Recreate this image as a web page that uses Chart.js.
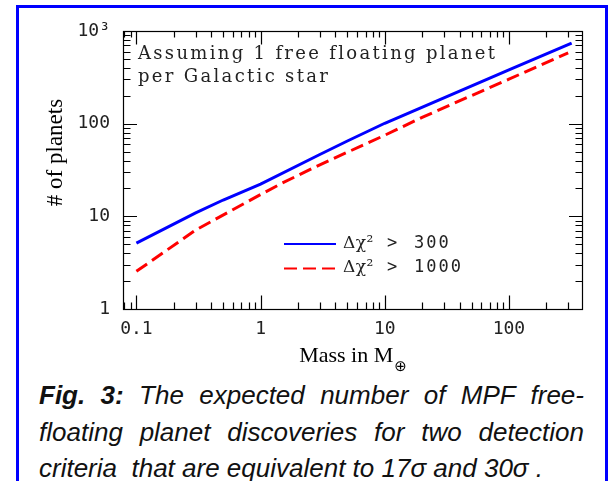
<!DOCTYPE html>
<html><head><meta charset="utf-8">
<script src="https://cdn.jsdelivr.net/npm/chart.js@4.4.1/dist/chart.umd.min.js"></script>
<style>
html,body{margin:0;padding:0;background:#fff;width:611px;height:481px;overflow:hidden;}
#frame{position:absolute;left:16px;top:5px;width:592px;height:520px;box-sizing:border-box;border:3px solid #0000ff;}
#c{position:absolute;left:0;top:0;}
#cap{position:absolute;left:39px;top:377px;width:545px;font-family:"Liberation Sans",Arial,sans-serif;font-style:italic;font-size:26px;line-height:36.6px;color:#111;}
#cap div{white-space:nowrap;}
#cap .j{text-align:justify;text-align-last:justify;white-space:normal;}
</style></head><body>
<div id="frame"></div>
<canvas id="c" width="611" height="375"></canvas>
<div id="cap">
<div class="j"><b>Fig. 3:</b> The expected number of MPF free-</div>
<div class="j">floating planet discoveries for two detection</div>
<div>criteria&nbsp; that are equivalent to 17σ and 30σ .</div>
</div>
<script>
// ---- data ----
const massBlue    = [0.1, 0.3, 0.5, 1, 3, 5, 10, 100, 320];
const planetsBlue = [5.15, 10.9, 15.0, 22.3, 46.5, 65, 101, 381, 740];
const massRed     = [0.1, 0.3, 1, 1.5, 3, 10, 20, 100, 300];
const planetsRed  = [2.55, 7.1, 17.2, 22.9, 36, 75, 117, 302, 582];
const seriesLabels = ['Δχ² > 300', 'Δχ² > 1000'];
const xTickValues = [0.1, 1, 10, 100];
const xTickLabels = ['0.1', '1', '10', '100'];
const yTickValues = [1, 10, 100, 1000];
const yTickLabels = ['1', '10', '100', '10³'];
const xTitle = 'Mass in M';
const xTitleSub = '⊕';
const yTitle = '# of planets';
const noteLines = ['Assuming 1 free floating planet', 'per Galactic star'];

function logTicks(min, max) {
  const out = [];
  for (let e = Math.floor(Math.log10(min)); e <= Math.ceil(Math.log10(max)); e++) {
    for (let m = 1; m <= 9; m++) {
      const v = +(m * Math.pow(10, e)).toPrecision(6);
      if (v > min * 1.001 && v < max * 0.999) out.push({v, major: m === 1});
    }
  }
  return out;
}

function drawSpaced(ctx, text, x, y, spacing) {
  for (const ch of Array.from(text)) {
    ctx.fillText(ch, x, y);
    x += ctx.measureText(ch).width + spacing;
  }
}
function naturalWidth(ctx, text) {
  let w = 0;
  for (const ch of Array.from(text)) w += ctx.measureText(ch).width;
  return w;
}

const decorPlugin = {
  id: 'decor',
  afterDatasetsDraw(chart) {
    const {ctx, chartArea: a, scales: {x, y}} = chart;
    ctx.save();
    ctx.strokeStyle = '#000';
    ctx.lineWidth = 1.2;
    ctx.strokeRect(a.left + 0.5, a.top + 0.5, a.right - a.left - 1, a.bottom - a.top);
    ctx.beginPath();
    for (const t of logTicks(x.min, x.max)) {
      const px = Math.round(x.getPixelForValue(t.v)) + 0.5;
      const len = t.major ? 13.5 : 6.5;
      ctx.moveTo(px, a.bottom); ctx.lineTo(px, a.bottom - len);
      ctx.moveTo(px, a.top); ctx.lineTo(px, a.top + len);
    }
    for (const t of logTicks(y.min, y.max)) {
      const py = Math.round(y.getPixelForValue(t.v)) + 0.5;
      const len = t.major ? 14 : 7.5;
      ctx.moveTo(a.left, py); ctx.lineTo(a.left + len, py);
      ctx.moveTo(a.right, py); ctx.lineTo(a.right - len, py);
    }
    ctx.stroke();

    // note text
    ctx.fillStyle = '#222';
    ctx.font = '18px "DejaVu Serif"';
    ctx.textBaseline = 'alphabetic';
    const sp = (357 - naturalWidth(ctx, noteLines[0])) / (Array.from(noteLines[0]).length - 1);
    drawSpaced(ctx, noteLines[0], 138, 59, sp);
    drawSpaced(ctx, noteLines[1], 138, 82, sp);

    // legend
    const rows = [{ly: 244, ty: 247.5}, {ly: 268.5, ty: 271.5}];
    const tokenX = [343, 387, 414];
    chart.data.datasets.forEach((ds, i) => {
      ctx.save();
      ctx.strokeStyle = ds.borderColor;
      ctx.lineWidth = 2;
      ctx.setLineDash(ds.borderDash || []);
      ctx.beginPath();
      ctx.moveTo(284, rows[i].ly); ctx.lineTo(336, rows[i].ly);
      ctx.stroke();
      ctx.restore();
      ctx.fillStyle = '#222';
      const toks = ds.label.split(' ');
      toks.forEach((tk, k) => {
        ctx.font = k === 0 ? '17px "DejaVu Serif"' : '17px "DejaVu Sans Mono"';
        drawSpaced(ctx, tk, tokenX[k], rows[i].ty, k === 2 ? 2 : 0.5);
      });
    });

    // axis titles
    ctx.fillStyle = '#000';
    ctx.font = '22px "Liberation Serif"';
    const wMain = ctx.measureText(xTitle).width;
    ctx.font = '15px "DejaVu Sans"';
    const wSub = ctx.measureText(xTitleSub).width;
    const cx = (a.left + a.right) / 2;
    const sx = cx - (wMain + wSub + 1) / 2;
    ctx.font = '22px "Liberation Serif"';
    ctx.textAlign = 'left';
    ctx.fillText(xTitle, sx, 361.5);
    ctx.font = '15px "DejaVu Sans"';
    ctx.fillText(xTitleSub, sx + wMain + 1, 370.5);

    ctx.save();
    ctx.font = '23px "Liberation Serif"';
    ctx.translate(62, 152.5);
    ctx.rotate(-Math.PI / 2);
    ctx.textAlign = 'center';
    ctx.fillText(yTitle, 0, 0);
    ctx.restore();
    ctx.restore();
  }
};

new Chart(document.getElementById('c'), {
  type: 'line',
  data: {
    datasets: [
      {label: seriesLabels[0], data: massBlue.map((m, i) => ({x: m, y: planetsBlue[i]})),
       borderColor: '#0000ff', borderWidth: 3, pointRadius: 0, fill: false, tension: 0},
      {label: seriesLabels[1], data: massRed.map((m, i) => ({x: m, y: planetsRed[i]})),
       borderColor: '#ff0000', borderWidth: 3, borderDash: [13, 6], pointRadius: 0, fill: false, tension: 0}
    ]
  },
  options: {
    responsive: false,
    animation: false,
    devicePixelRatio: 1,
    layout: {padding: {left: 0, right: 28, top: 31, bottom: 0}},
    plugins: {legend: {display: false}, tooltip: {enabled: false}},
    scales: {
      x: {
        type: 'logarithmic', min: 0.078, max: 395,
        afterBuildTicks: s => { s.ticks = xTickValues.map(v => ({value: v, major: true})); },
        afterFit: s => { s.height = 66; },
        grid: {display: false, drawTicks: false},
        border: {display: false},
        ticks: {autoSkip: false, maxRotation: 0, padding: 10, color: '#222',
                font: {family: 'DejaVu Sans Mono', size: 18},
                callback: (v, i) => xTickLabels[i]}
      },
      y: {
        type: 'logarithmic', min: 1, max: 1000,
        afterBuildTicks: s => { s.ticks = yTickValues.map(v => ({value: v, major: true})); },
        afterFit: s => { s.width = 123; },
        grid: {display: false, drawTicks: false},
        border: {display: false},
        ticks: {autoSkip: false, padding: 13, color: '#222',
                font: {family: 'DejaVu Sans Mono', size: 18},
                callback: (v, i) => yTickLabels[i]}
      }
    }
  },
  plugins: [decorPlugin]
});
</script>
</body></html>
